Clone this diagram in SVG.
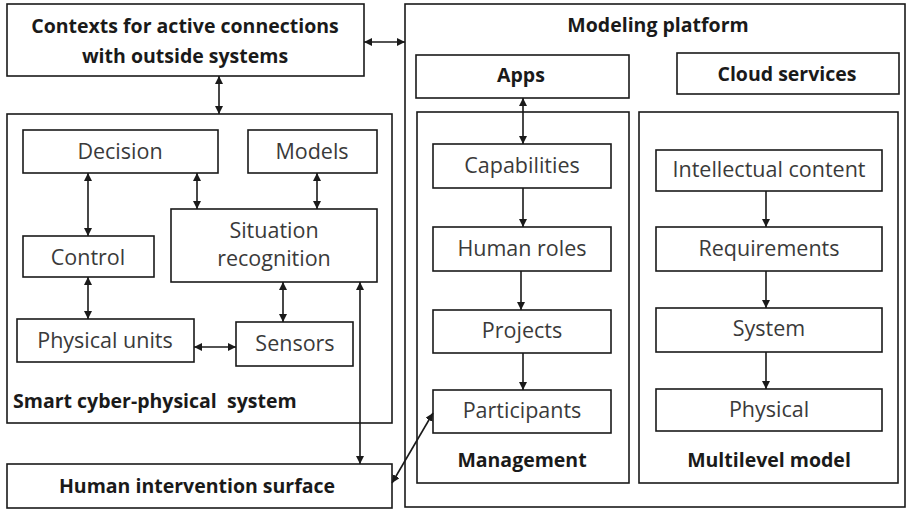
<svg xmlns="http://www.w3.org/2000/svg" width="906" height="509" viewBox="0 0 906 509">
<defs>
<marker id="ah" viewBox="0 0 10 10" refX="10" refY="5" markerWidth="8" markerHeight="8" markerUnits="userSpaceOnUse" orient="auto-start-reverse">
<path d="M0,0 L10,5 L0,10 z" fill="#1a1a1a"/>
</marker>
<style>
.b{fill:#fff;stroke:#1a1a1a;stroke-width:1.6}
.t{font-family:"Open Sans","Liberation Sans",sans-serif;font-size:21.5px;fill:#3a3a3a;text-anchor:middle}
.bt{font-family:"Open Sans","Liberation Sans",sans-serif;font-size:19.5px;font-weight:bold;fill:#1a1a1a;text-anchor:middle}
.c{fill:none;stroke:#1a1a1a;stroke-width:1.6}
.d{marker-start:url(#ah);marker-end:url(#ah)}
.s{marker-end:url(#ah)}
</style>
</defs>
<rect width="906" height="509" fill="#fff"/>
<g id="modeling-platform">
<rect class="b" x="405" y="4" width="500" height="503"/>
<text class="bt" x="658" y="32">Modeling platform</text>
</g>
<g id="smart-cps">
<rect class="b" x="7" y="114" width="385" height="309"/>
<text class="bt" x="13" y="408" style="text-anchor:start;white-space:pre" xml:space="preserve">Smart cyber-physical  system</text>
</g>
<g id="management">
<rect class="b" x="417" y="112" width="212" height="371"/>
<text class="bt" x="522" y="467">Management</text>
</g>
<g id="multilevel-model">
<rect class="b" x="639" y="112" width="259" height="371"/>
<text class="bt" x="769" y="467">Multilevel model</text>
</g>
<g id="contexts">
<rect class="b" x="7" y="4" width="357" height="72"/>
<text class="bt" x="185" y="33">Contexts for active connections</text>
<text class="bt" x="185" y="63">with outside systems</text>
</g>
<g id="apps">
<rect class="b" x="416" y="55" width="213" height="43"/>
<text class="bt" x="521" y="82">Apps</text>
</g>
<g id="cloud-services">
<rect class="b" x="677" y="53" width="222" height="41"/>
<text class="bt" x="787" y="81">Cloud services</text>
</g>
<g id="decision">
<rect class="b" x="23" y="130" width="195" height="43"/>
<text class="t" x="120" y="159">Decision</text>
</g>
<g id="models">
<rect class="b" x="248" y="130" width="129" height="43"/>
<text class="t" x="312" y="159">Models</text>
</g>
<g id="situation-recognition">
<rect class="b" x="171" y="209" width="206" height="73"/>
<text class="t" x="274" y="238">Situation</text>
<text class="t" x="274" y="266">recognition</text>
</g>
<g id="control">
<rect class="b" x="23" y="236" width="131" height="41"/>
<text class="t" x="88" y="265">Control</text>
</g>
<g id="physical-units">
<rect class="b" x="17" y="319" width="177" height="43"/>
<text class="t" x="105" y="348">Physical units</text>
</g>
<g id="sensors">
<rect class="b" x="236" y="322" width="117" height="44"/>
<text class="t" x="295" y="351">Sensors</text>
</g>
<g id="human-intervention">
<rect class="b" x="7" y="464" width="385" height="44"/>
<text class="bt" x="197" y="493">Human intervention surface</text>
</g>
<g id="capabilities">
<rect class="b" x="433" y="144" width="178" height="44"/>
<text class="t" x="522" y="173">Capabilities</text>
</g>
<g id="human-roles">
<rect class="b" x="433" y="227" width="178" height="44"/>
<text class="t" x="522" y="256">Human roles</text>
</g>
<g id="projects">
<rect class="b" x="433" y="310" width="178" height="43"/>
<text class="t" x="522" y="338">Projects</text>
</g>
<g id="participants">
<rect class="b" x="433" y="390" width="178" height="43"/>
<text class="t" x="522" y="418">Participants</text>
</g>
<g id="intellectual-content">
<rect class="b" x="656" y="150" width="226" height="41"/>
<text class="t" x="769" y="177">Intellectual content</text>
</g>
<g id="requirements">
<rect class="b" x="656" y="227" width="226" height="44"/>
<text class="t" x="769" y="256">Requirements</text>
</g>
<g id="system">
<rect class="b" x="656" y="308" width="226" height="44"/>
<text class="t" x="769" y="336">System</text>
</g>
<g id="physical">
<rect class="b" x="656" y="389" width="226" height="42"/>
<text class="t" x="769" y="417">Physical</text>
</g>
<g id="connectors">
<line class="c d" x1="364" y1="42" x2="405" y2="42"/>
<line class="c d" x1="219" y1="76" x2="219" y2="114"/>
<line class="c d" x1="88" y1="173" x2="88" y2="236"/>
<line class="c d" x1="197" y1="173" x2="197" y2="209"/>
<line class="c d" x1="317" y1="173" x2="317" y2="209"/>
<line class="c d" x1="88" y1="277" x2="88" y2="319"/>
<line class="c d" x1="283" y1="282" x2="283" y2="322"/>
<line class="c d" x1="194" y1="347" x2="236" y2="347"/>
<line class="c d" x1="360" y1="282" x2="360" y2="464"/>
<line class="c d" x1="392" y1="483" x2="433" y2="413"/>
<line class="c d" x1="523" y1="98" x2="523" y2="144"/>
<line class="c s" x1="523" y1="188" x2="523" y2="227"/>
<line class="c s" x1="521" y1="271" x2="521" y2="310"/>
<line class="c s" x1="523" y1="353" x2="523" y2="390"/>
<line class="c s" x1="766" y1="191" x2="766" y2="227"/>
<line class="c s" x1="766" y1="271" x2="766" y2="308"/>
<line class="c s" x1="766" y1="352" x2="766" y2="389"/>
</g>
</svg>
